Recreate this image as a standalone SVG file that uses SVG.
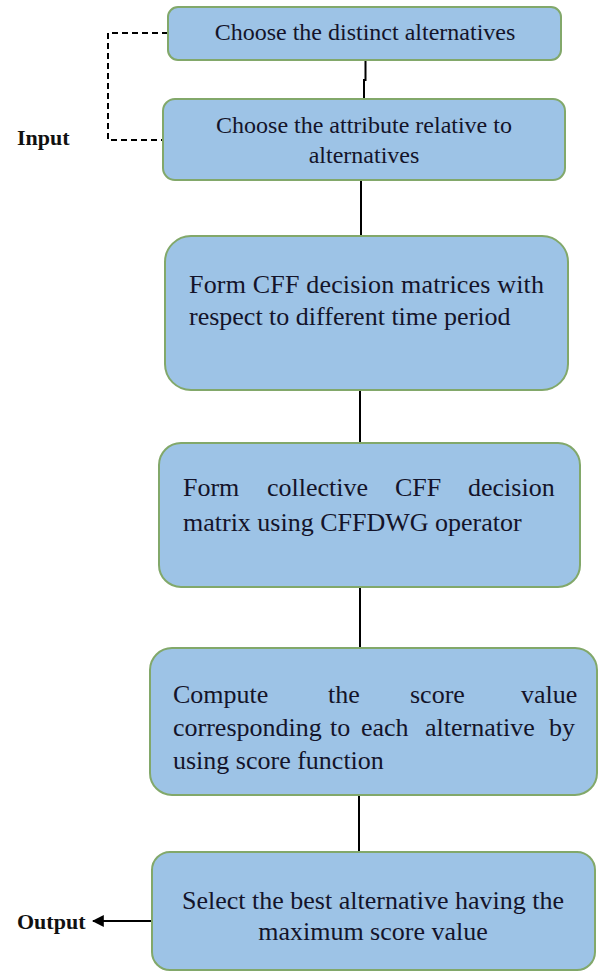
<svg xmlns="http://www.w3.org/2000/svg" width="604" height="974" viewBox="0 0 604 974">
<style>
.box{fill:#9DC3E6;stroke:#82A86A;stroke-width:2}
.t{fill:#14142a}
.t24{font-size:24px}
.t26{font-size:26px}
.lbl{font-weight:bold;font-size:22px;fill:#111}
.conn{stroke:#000;stroke-width:2;fill:none}
.dash{stroke:#000;stroke-width:2;fill:none;stroke-dasharray:6 4}
</style>
<defs>
<marker id="arr" viewBox="0 0 10 10" refX="9" refY="5" markerWidth="6" markerHeight="6" orient="auto-start-reverse">
<path d="M0,0 L10,5 L0,10 z" fill="#000"/>
</marker>
</defs>
<rect width="604" height="974" fill="#fff"/>
<g id="connectors">
<path class="conn" d="M365.5,60 V81 M364,79 V99"/>
<path class="conn" d="M361,180 V236"/>
<path class="conn" d="M360,390 V443"/>
<path class="conn" d="M360,587 V648"/>
<path class="conn" d="M359,795 V852"/>
<path class="dash" d="M168,33 H108 V140 H163"/>
<path class="conn" d="M152,921 H93" marker-end="url(#arr)"/>
</g>
<g font-family="'Liberation Serif', 'Times New Roman', 'DejaVu Serif', serif">
<g id="input-label"><text class="lbl" x="17" y="145">Input</text></g>
<g id="output-label"><text class="lbl" x="17" y="929">Output</text></g>
<g id="n1">
<rect class="box" x="168" y="7" width="393" height="53" rx="10"/>
<text class="t t24" x="365" y="40" text-anchor="middle">Choose the distinct alternatives</text>
</g>
<g id="n2">
<rect class="box" x="163" y="99" width="402" height="81" rx="12"/>
<text class="t t24" x="364" y="133" text-anchor="middle">Choose the attribute relative to</text>
<text class="t t24" x="364" y="163" text-anchor="middle">alternatives</text>
</g>
<g id="n3">
<rect class="box" x="165" y="236" width="403" height="154" rx="26"/>
<text class="t t26" x="189" y="293" textLength="355">Form CFF decision matrices with</text>
<text class="t t26" x="189" y="325">respect to different time period</text>
</g>
<g id="n4">
<rect class="box" x="159" y="443" width="421" height="144" rx="22"/>
<text class="t t26" y="496"><tspan x="183">Form</tspan><tspan x="267">collective</tspan><tspan x="395">CFF</tspan><tspan x="468">decision</tspan></text>
<text class="t t26" x="183" y="531">matrix using CFFDWG operator</text>
</g>
<g id="n5">
<rect class="box" x="150" y="648" width="447" height="147" rx="22"/>
<text class="t t26" y="703"><tspan x="173">Compute</tspan><tspan x="328">the</tspan><tspan x="410">score</tspan><tspan x="521">value</tspan></text>
<text class="t t26" y="736"><tspan x="173">corresponding</tspan><tspan x="330">to</tspan><tspan x="361">each</tspan><tspan x="425">alternative</tspan><tspan x="549">by</tspan></text>
<text class="t t26" x="173" y="769">using score function</text>
</g>
<g id="n6">
<rect class="box" x="152" y="852" width="443" height="118" rx="18"/>
<text class="t t26" x="373" y="909" text-anchor="middle">Select the best alternative having the</text>
<text class="t t26" x="373" y="940" text-anchor="middle">maximum score value</text>
</g>
</g>
</svg>
